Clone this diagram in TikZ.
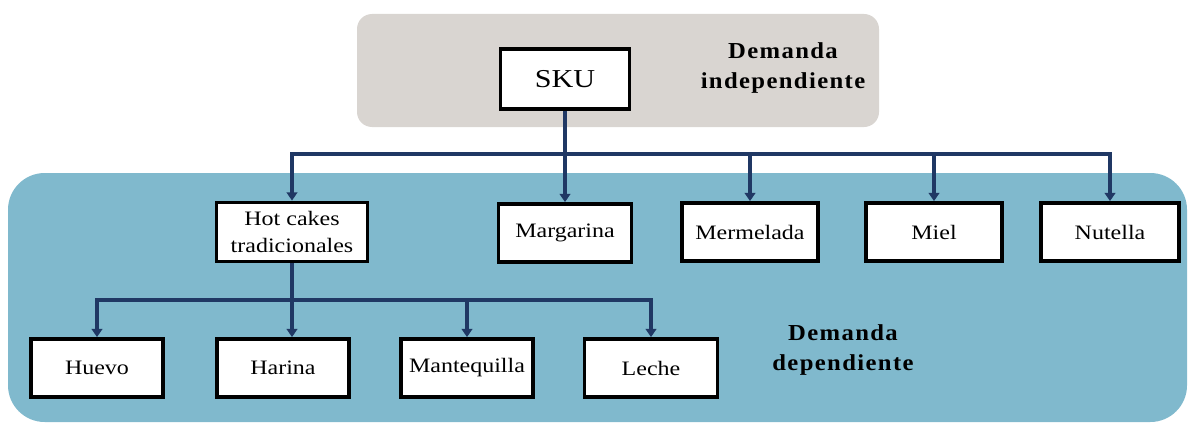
\documentclass[tikz,border=0pt]{standalone}
\usepackage{fontspec}
\setmainfont{Liberation Serif}[FakeStretch=1.17]
\newfontfamily\labfont{Liberation Serif}[FakeStretch=1.08, LetterSpace=6, BoldFont={Liberation Serif Bold}]
\usetikzlibrary{arrows.meta}
\definecolor{graybg}{RGB}{217,213,209}
\definecolor{bluebg}{RGB}{128,185,205}
\definecolor{navy}{RGB}{32,56,100}
\tikzset{
  box/.style={draw=black, line width=3.2pt, fill=white, align=center, inner sep=0pt,
    minimum height=1.74cm, font=\fontsize{17.5}{23}\selectfont},
  arr/.style={draw=navy, line width=3pt, -{Triangle[length=7pt,width=9pt]}},
  lab/.style={align=center, font=\labfont\bfseries\fontsize{19.5}{25.5}\selectfont}
}
\begin{document}
\begin{tikzpicture}[x=0.03cm,y=-0.03cm]
\useasboundingbox (0,0) rectangle (1188,422);
% backgrounds
\fill[graybg, rounded corners=0.45cm] (357,14) rectangle (879,127);
\fill[bluebg, rounded corners=1.1cm] (8,173) rectangle (1187,422);
% top node
\node[box, minimum width=3.87cm, minimum height=1.8cm, font=\fontsize{22}{26}\selectfont] (sku) at (565,79) {SKU};
\node[lab] (indep) at (783,68) {Demanda\\independiente};
% level 1
\node[box, minimum width=4.53cm, minimum height=1.77cm] (hot) at (292,232) {Hot cakes\\tradicionales};
\node[box, minimum width=3.99cm] (marg) at (565,233) {Margarina};
\node[box, minimum width=4.08cm] (merm) at (750,232) {Mermelada};
\node[box, minimum width=4.08cm] (miel) at (934,232) {Miel};
\node[box, minimum width=4.14cm] (nut) at (1110,232) {Nutella};
% level 2
\node[box, minimum width=3.96cm] (huevo) at (97,368) {Huevo};
\node[box, minimum width=3.96cm] (harina) at (283,368) {Harina};
\node[box, minimum width=3.96cm] (mant) at (467,368) {Mantequilla};
\node[box, minimum width=3.99cm] (leche) at (651,368) {Leche};
\node[lab] (dep) at (843,350) {Demanda\\dependiente};
% connectors level 1
\coordinate (bus) at (565,154);
\draw[arr] (sku.south) -- (marg.north);
\draw[arr] (bus) -| (hot.north);
\draw[arr] (bus) -| (merm.north);
\draw[arr] (bus) -| (miel.north);
\draw[arr] (bus) -| (nut.north);
% connectors level 2
\coordinate (bus2) at (292,300);
\draw[arr] (hot.south) -- (hot.south |- harina.north);
\draw[arr] (bus2) -| (huevo.north);
\draw[arr] (bus2) -| (mant.north);
\draw[arr] (bus2) -| (leche.north);
\end{tikzpicture}
\end{document}
